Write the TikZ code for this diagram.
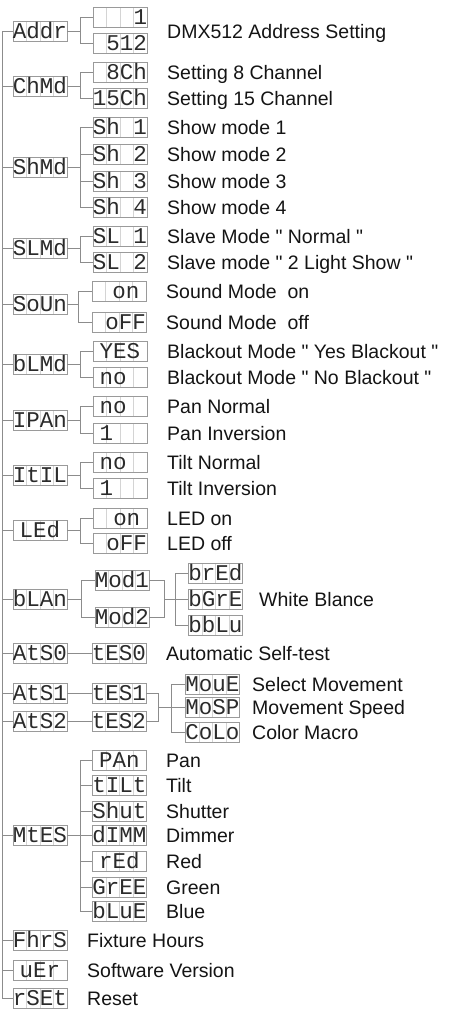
\documentclass[tikz,border=0pt]{standalone}
\usepackage{fontspec}
\setmainfont{Liberation Sans}[Ligatures=TeXOff]
\newfontfamily\lcdfont{Liberation Mono}
\usetikzlibrary{calc}
\definecolor{conngray}{HTML}{8C8C8C}
\definecolor{boxgray}{HTML}{9A9A9A}
\definecolor{cellgray}{HTML}{D4D4D4}
\definecolor{segcol}{HTML}{2B2B2B}
\newcommand\fanout[3]{\foreach \c in {#3}{\draw[conn] (#1.east) -- ++(#2,0) |- (\c.west);}}
\begin{document}
\begin{tikzpicture}[x=1pt,y=-1pt,
  lcd/.style={draw=boxgray, line width=0.9pt, fill=white, minimum width=54pt, minimum height=20pt,
    inner sep=0pt, text height=15pt, text depth=0pt,
    font=\lcdfont\fontsize{22.5}{22.5}\selectfont, text=segcol,
    path picture={\foreach \k in {1,2,3}{\draw[cellgray,line width=0.8pt]
      ($(path picture bounding box.north west)!\k/4!(path picture bounding box.north east)$) --
      ($(path picture bounding box.south west)!\k/4!(path picture bounding box.south east)$);}}},
  conn/.style={draw=conngray, line width=0.9pt},
  lbl/.style={anchor=west, inner sep=0pt, text height=14pt, text depth=0pt,
    font=\fontsize{19.5}{19.5}\selectfont, text=black!92}
]
\useasboundingbox (0,0) rectangle (448,1012);
% main column
\node[lcd] (addr) at (40,31) {Addr};
\node[lcd] (chmd) at (40,86) {ChMd};
\node[lcd] (shmd) at (40,167) {ShMd};
\node[lcd] (slmd) at (40,248) {SLMd};
\node[lcd] (soun) at (40,304) {SoUn};
\node[lcd] (blmd) at (40,364) {bLMd};
\node[lcd] (ipan) at (40,420) {IPAn};
\node[lcd] (itil) at (40,475) {ItIL};
\node[lcd] (led) at (40,530) {LEd~};
\node[lcd] (blan) at (40,599) {bLAn};
\node[lcd] (ats0) at (40,653) {AtS0};
\node[lcd] (ats1) at (40,693) {AtS1};
\node[lcd] (ats2) at (40,721) {AtS2};
\node[lcd] (mtes) at (40,835) {MtES};
\node[lcd] (fhrs) at (40,940) {FhrS};
\node[lcd] (uer) at (40,970) {uEr~};
\node[lcd] (rset) at (40,998) {rSEt};
% bus
\coordinate (bus) at (2,31);
\draw[conn] (bus) -- (bus |- rset);
\foreach \m in {addr,chmd,shmd,slmd,soun,blmd,ipan,itil,led,blan,ats0,ats1,ats2,mtes,fhrs,uer,rset}
  {\draw[conn] (bus |- \m) -- (\m.west);}
% children
\node[lcd] (addrA) at (120,17) {~~~1};
\node[lcd] (addrB) at (120,43) {~512};
\node[lcd] (chA) at (120,72) {~8Ch};
\node[lcd] (chB) at (120,98) {15Ch};
\node[lcd] (shA) at (120,127) {Sh~1};
\node[lcd] (shB) at (120,154) {Sh~2};
\node[lcd] (shC) at (120,181) {Sh~3};
\node[lcd] (shD) at (120,207) {Sh~4};
\node[lcd] (slA) at (120,236) {SL~1};
\node[lcd] (slB) at (120,262) {SL~2};
\node[lcd] (soA) at (119,291) {~on~};
\node[lcd] (soB) at (119,322) {~oFF};
\node[lcd] (blA) at (120,351) {YES~};
\node[lcd] (blB) at (120,377) {no~~};
\node[lcd] (ipA) at (120,406) {no~~};
\node[lcd] (ipB) at (120,433) {1~~~};
\node[lcd] (itA) at (120,462) {no~~};
\node[lcd] (itB) at (120,488) {1~~~};
\node[lcd] (leA) at (120,518) {~on~};
\node[lcd] (leB) at (120,543) {~oFF};
\node[lcd] (mod1) at (122,580) {Mod1};
\node[lcd] (mod2) at (122,617) {Mod2};
\node[lcd] (bred) at (215.5,573) {brEd};
\node[lcd] (bgre) at (215.5,599) {bGrE};
\node[lcd] (bblu) at (215.5,625) {bbLu};
\node[lcd] (tes0) at (119,653) {tES0};
\node[lcd] (tes1) at (119,693) {tES1};
\node[lcd] (tes2) at (119,721) {tES2};
\node[lcd] (moue) at (212.5,684) {MouE};
\node[lcd] (mosp) at (212.5,707) {MoSP};
\node[lcd] (colo) at (212.5,732) {CoLo};
\node[lcd] (pan) at (119.5,760) {PAn~};
\node[lcd] (tilt) at (119.5,785) {tILt};
\node[lcd] (shut) at (119.5,811) {Shut};
\node[lcd] (dimm) at (119.5,835) {dIMM};
\node[lcd] (red) at (119.5,861) {rEd~};
\node[lcd] (gree) at (119.5,887) {GrEE};
\node[lcd] (blue) at (119.5,911) {bLuE};
% connectors
\fanout{addr}{13}{addrA,addrB}
\fanout{chmd}{13}{chA,chB}
\fanout{shmd}{13}{shA,shB,shC,shD}
\fanout{slmd}{13}{slA,slB}
\fanout{soun}{11}{soA,soB}
\fanout{blmd}{13}{blA,blB}
\fanout{ipan}{13}{ipA,ipB}
\fanout{itil}{13}{itA,itB}
\fanout{led}{13}{leA,leB}
\fanout{blan}{14}{mod1,mod2}
\draw[conn] (mod1.east) -- ++(15,0) |- (mod2.east);
\draw[conn] (mod1.east) ++(15,0) |- (bgre.west);
\foreach \c in {bred,bblu}{\draw[conn] (bgre.west) ++(-12.5,0) |- (\c.west);}
\draw[conn] (ats0.east) -- (tes0.west);
\draw[conn] (ats1.east) -- (tes1.west);
\draw[conn] (ats2.east) -- (tes2.west);
\draw[conn] (tes1.east) -- ++(12,0) |- (tes2.east);
\draw[conn] (tes1.east) ++(12,0) |- (mosp.west);
\foreach \c in {moue,colo}{\draw[conn] (mosp.west) ++(-13.5,0) |- (\c.west);}
\fanout{mtes}{13}{pan,tilt,shut,dimm,red,gree,blue}
% labels
\node[lbl] (t1) at (167,31) {DMX512 Address Setting};
\node[lbl] (t2) at (167,72) {Setting 8 Channel};
\node[lbl] (t3) at (167,98) {Setting 15 Channel};
\node[lbl] (t4) at (167,127) {Show mode 1};
\node[lbl] (t5) at (167,154) {Show mode 2};
\node[lbl] (t6) at (167,181) {Show mode 3};
\node[lbl] (t7) at (167,207) {Show mode 4};
\node[lbl] (t8) at (167,236) {Slave Mode " Normal "};
\node[lbl] (t9) at (167,262) {Slave mode " 2 Light Show "};
\node[lbl] (t10) at (166,291) {Sound Mode~~on};
\node[lbl] (t11) at (166,322) {Sound Mode~~off};
\node[lbl] (t12) at (167,351) {Blackout Mode " Yes Blackout "};
\node[lbl] (t13) at (167,377) {Blackout Mode " No Blackout "};
\node[lbl] (t14) at (167,406) {Pan Normal};
\node[lbl] (t15) at (167,433) {Pan Inversion};
\node[lbl] (t16) at (167,462) {Tilt Normal};
\node[lbl] (t17) at (167,488) {Tilt Inversion};
\node[lbl] (t18) at (167,518) {LED on};
\node[lbl] (t19) at (167,543) {LED off};
\node[lbl] (t20) at (259,599) {White Blance};
\node[lbl] (t21) at (166,653) {Automatic Self-test};
\node[lbl] (t22) at (252,684) {Select Movement};
\node[lbl] (t23) at (252,707) {Movement Speed};
\node[lbl] (t24) at (252,732) {Color Macro};
\node[lbl] (t25) at (166,760) {Pan};
\node[lbl] (t26) at (166,785) {Tilt};
\node[lbl] (t27) at (166,811) {Shutter};
\node[lbl] (t28) at (166,835) {Dimmer};
\node[lbl] (t29) at (166,861) {Red};
\node[lbl] (t30) at (166,887) {Green};
\node[lbl] (t31) at (166,911) {Blue};
\node[lbl] (t32) at (87,940) {Fixture Hours};
\node[lbl] (t33) at (87,970) {Software Version};
\node[lbl] (t34) at (87,998) {Reset};
\end{tikzpicture}
\end{document}
